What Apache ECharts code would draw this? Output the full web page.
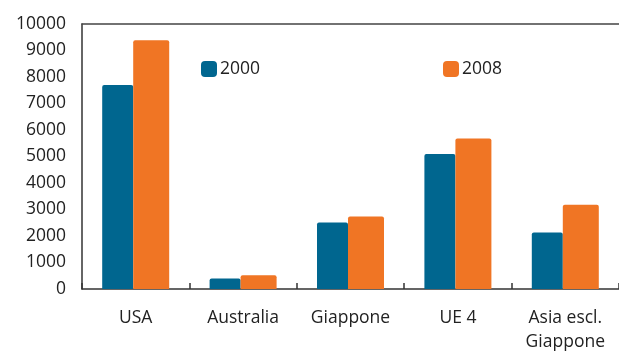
<!DOCTYPE html>
<html>
<head>
<meta charset="utf-8">
<script src="https://cdn.jsdelivr.net/npm/echarts@6/dist/echarts.min.js"></script>
<style>
  html, body { margin: 0; padding: 0; background: #ffffff; }
  #chart { width: 619px; height: 354px; }
</style>
</head>
<body>
<div id="chart"></div>
<script>
// Regions and yearly values
const categories = ['USA', 'Australia', 'Giappone', 'UE 4', 'Asia escl.\nGiappone'];
const values2000 = [7700, 400, 2510, 5090, 2130];
const values2008 = [9390, 520, 2740, 5680, 3180];
const yTicks = { min: 0, max: 10000, interval: 1000 };

const blue = '#00668F';
const orange = '#F07524';
const axisColor = '#333333';
const textColor = '#222222';
const font = '"Open Sans", "Noto Sans", sans-serif';

const chart = echarts.init(document.getElementById('chart'), null, { renderer: 'canvas' });

const legendText = { fontSize: 17.5, color: textColor, fontFamily: font, padding: [0, 0, 0, -2] };

chart.setOption({
  animation: false,
  backgroundColor: '#ffffff',
  textStyle: { fontFamily: font },
  grid: { left: 82, right: -9, top: 24, bottom: 63, containLabel: false },
  legend: [
    {
      data: ['2000'], left: 201, top: 60, padding: 0, itemWidth: 16, itemHeight: 16, itemGap: 0,
      icon: 'roundRect', textStyle: legendText
    },
    {
      data: ['2008'], left: 443, top: 60, padding: 0, itemWidth: 16, itemHeight: 16, itemGap: 0,
      icon: 'roundRect', textStyle: legendText
    }
  ],
  xAxis: [
    {
      type: 'category',
      data: categories,
      position: 'bottom',
      axisLine: { lineStyle: { color: axisColor, width: 1.5 } },
      axisTick: { show: true, inside: true, length: 6, lineStyle: { color: axisColor, width: 1.5 } },
      axisLabel: { color: textColor, fontSize: 17.5, lineHeight: 24, margin: 17, fontFamily: font, interval: 0 }
    },
    {
      type: 'category',
      data: categories,
      position: 'top',
      axisLine: { lineStyle: { color: '#444444', width: 1.5 } },
      axisTick: { show: false },
      axisLabel: { show: false }
    }
  ],
  yAxis: {
    type: 'value',
    min: yTicks.min,
    max: yTicks.max,
    interval: yTicks.interval,
    axisLine: { show: true, lineStyle: { color: axisColor, width: 1.5 } },
    axisTick: { show: false },
    splitLine: { show: false },
    axisLabel: { color: textColor, fontSize: 17.5, margin: 16, fontFamily: font, formatter: v => String(v) }
  },
  series: [
    {
      name: '2000', type: 'bar', data: values2000, barWidth: 31, barGap: 0,
      itemStyle: { color: blue, borderRadius: [2, 2, 0, 0] }
    },
    {
      name: '2008', type: 'bar', data: values2008, barWidth: 36, barGap: 0,
      itemStyle: { color: orange, borderRadius: [2, 2, 0, 0] }
    }
  ]
});
</script>
</body>
</html>
